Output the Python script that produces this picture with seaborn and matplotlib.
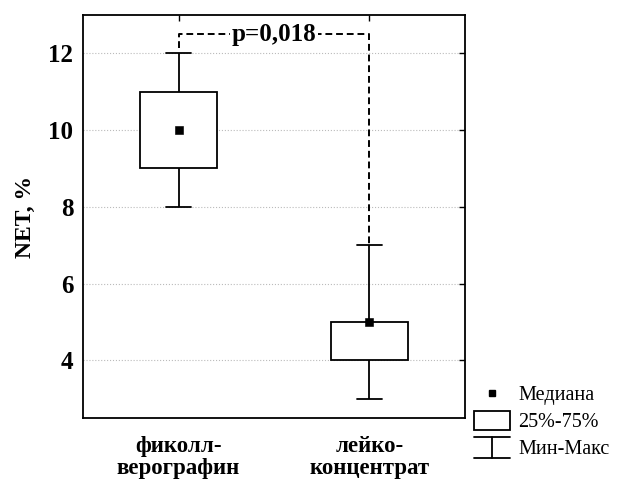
import numpy as np
import pandas as pd
import matplotlib
matplotlib.use('Agg')
import matplotlib.pyplot as plt
import matplotlib.patches as mpatches
from matplotlib.lines import Line2D
from matplotlib.legend_handler import HandlerBase
import seaborn as sns

# данные: пятичисловые сводки по группам
groups = ['фиколл-\nверографин', 'лейко-\nконцентрат']
mins = [8, 3]
q1s = [9, 4]
medians = [10, 5]
q3s = [11, 5]
maxs = [12, 7]
p_text = 'p=0,018'
y_ticks = [4, 6, 8, 10, 12]

# из пяти точек квантили 0/25/50/75/100 получаются ровно такими
rows = []
for g, a, b, c, d, e in zip(groups, mins, q1s, medians, q3s, maxs):
    for v in (a, b, c, d, e):
        rows.append({'group': g, 'value': v})
df = pd.DataFrame(rows)

sns.set_theme(style='white')
plt.rcParams['font.family'] = ['Liberation Serif', 'DejaVu Serif']
plt.rcParams['text.color'] = 'black'
plt.rcParams['axes.labelcolor'] = 'black'


class HandlerWhisker(HandlerBase):
    def create_artists(self, legend, orig_handle, xdescent, ydescent,
                       width, height, fontsize, trans):
        x0, x1 = -xdescent, -xdescent + width
        xm = (x0 + x1) / 2
        yb = -ydescent - 0.1 * height
        yt = -ydescent + 1.1 * height
        kw = dict(color='black', lw=1.3, transform=trans)
        return [Line2D([x0, x1], [yt, yt], **kw),
                Line2D([xm, xm], [yb, yt], **kw),
                Line2D([x0, x1], [yb, yb], **kw)]


fig = plt.figure(figsize=(6.26, 4.8), dpi=100)
ax = fig.add_axes([0.1326, 0.129, 0.6102, 0.84])

sns.boxplot(data=df, x='group', y='value', whis=(0, 100), width=0.4,
            color='white', linecolor='black', linewidth=1.3,
            medianprops={'linewidth': 0}, capwidths=0.13, ax=ax)
sns.scatterplot(x=groups, y=medians, marker='s', color='black',
                edgecolor='black', s=28, zorder=5, ax=ax, legend=False)

# скобка с p-значением
y_br = max(maxs) + 0.5
dash = (0, (3.5, 2))
ax.plot([0, 0, 1, 1], [maxs[0] + 0.15, y_br, y_br, maxs[1]],
        color='black', lw=1.4, linestyle=dash, zorder=3)
ax.text(0.5, y_br, p_text, ha='center', va='center', fontsize=18,
        fontweight='bold', color='black', zorder=4,
        bbox=dict(facecolor='white', edgecolor='none', pad=1))

ax.set_xlim(-0.5, 1.5)
ax.set_ylim(2.5, 13)
ax.set_yticks(y_ticks)
ax.yaxis.grid(True, linestyle=':', color='#bbbbbb', lw=0.8)
ax.set_axisbelow(True)
ax.tick_params(direction='in', top=True, right=True, length=4, width=1,
               colors='black')
ax.tick_params(axis='y', labelsize=18, pad=7)
ax.tick_params(axis='x', labelsize=16.5, pad=13)
for lab in ax.get_xticklabels() + ax.get_yticklabels():
    lab.set_fontweight('bold')
for lab in ax.get_xticklabels():
    lab.set_linespacing(1.05)
for s in ax.spines.values():
    s.set_color('black')
    s.set_linewidth(1.3)
ax.set_xlabel('')
ax.set_ylabel('NET, %', fontsize=17, fontweight='bold', color='black',
              labelpad=9)

handles = [Line2D([], [], marker='s', color='black', ls='none', markersize=5),
           mpatches.Patch(facecolor='white', edgecolor='black', lw=1.3),
           'whisker']
labels = ['Медиана', '25%-75%', 'Мин-Макс']
fig.legend(handles, labels, loc='lower left', bbox_to_anchor=(0.757, 0.043),
           frameon=False, fontsize=14.5, borderpad=0, borderaxespad=0,
           handlelength=1.8, handleheight=1.0, handletextpad=0.4,
           labelspacing=0.3, labelcolor='black',
           handler_map={str: HandlerWhisker()})

fig.savefig('out.png', dpi=100)
